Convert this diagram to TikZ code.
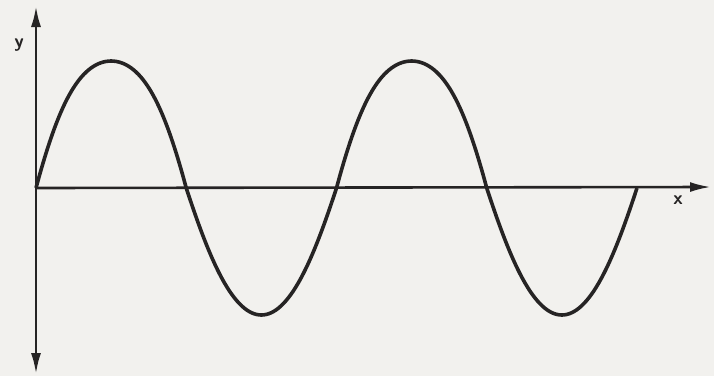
\documentclass[tikz,border=0pt]{standalone}
\usepackage{tikz}
\usetikzlibrary{arrows.meta}
\definecolor{paper}{RGB}{242,241,238}
\definecolor{ink}{RGB}{38,36,36}
\tikzset{
  axis/.style={
    draw=ink,
    line width=2.6pt,
    -{Latex[length=21pt,width=10pt]}
  },
  wave/.style={
    draw=ink,
    line width=3.6pt,
    line join=round
  },
  axislabel/.style={
    text=ink,
    font=\sffamily\bfseries\fontsize{19}{19}\selectfont,
    inner sep=0pt
  }
}
\begin{document}
\begin{tikzpicture}[x=1pt,y=-1pt]
  \fill[paper] (0,0) rectangle (714,376);
  \useasboundingbox (0,0) rectangle (714,376);

  \coordinate (origin) at (36,188);
  \coordinate (ytop) at (36,6);
  \coordinate (ybot) at (36,374);
  \coordinate (xend) at (711,187);
  \node[axislabel] (ylab) at (19,45) {y};
  \node[axislabel] (xlab) at (678,200) {x};

  \draw[axis] (origin) -- (ytop);
  \draw[axis] (origin) -- (ybot);
  \draw[axis] (origin) -- (xend);

  % upper lobes drawn a bit fuller than a true sine
  \draw[wave] plot[domain=0:720, samples=241, smooth]
    ({36+0.8347*\x},
     {188-127*sin(\x)*(1+(sin(\x)>0 ? 0.4 : 0.15)*(1-abs(sin(\x))))});
\end{tikzpicture}
\end{document}
